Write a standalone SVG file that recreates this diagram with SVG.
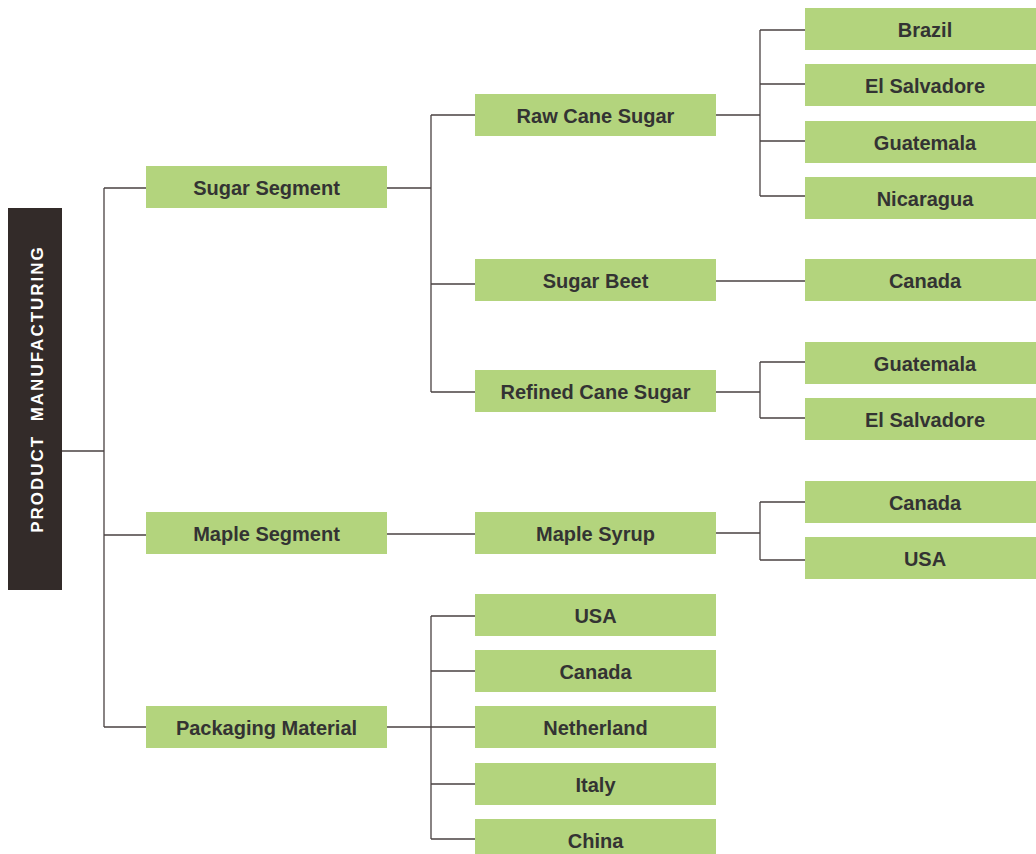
<svg xmlns="http://www.w3.org/2000/svg" width="1036" height="854" viewBox="0 0 1036 854">
<style>
.n rect{fill:#b3d47d}
.n text{font-family:"Liberation Sans",Arial,sans-serif;font-weight:bold;font-size:20px;fill:#333;text-anchor:middle}
#connectors path{fill:none;stroke:#4a4242;stroke-width:1.3}
</style>
<rect width="1036" height="854" fill="#fff"/>
<g id="connectors">
<path d="M62 451H104M104 188V727M104 188H146M104 535H146M104 727H146"/>
<path d="M387 188H431M431 115V392M431 115H475M431 284H475M431 392H475"/>
<path d="M716 115H760M760 30V196M760 30H805M760 84H805M760 141H805M760 196H805"/>
<path d="M716 281H805"/>
<path d="M716 392H760M760 362V418M760 362H805M760 418H805"/>
<path d="M387 534H475"/>
<path d="M716 533H760M760 502V560M760 502H805M760 560H805"/>
<path d="M387 727H431M431 616V839M431 616H475M431 671H475M431 727H475M431 784H475M431 839H475"/>
</g>
<g id="root"><rect x="8" y="208" width="54" height="382" fill="#332b29"/>
<text transform="translate(42.5 389) rotate(-90)" font-family="Liberation Sans,Arial,sans-serif" font-weight="bold" font-size="17" letter-spacing="2" fill="#fff" text-anchor="middle" xml:space="preserve">PRODUCT  MANUFACTURING</text></g>
<g id="sugar-segment" class="n"><rect x="146" y="166" width="241" height="42"/><text x="266.5" y="195">Sugar Segment</text></g>
<g id="maple-segment" class="n"><rect x="146" y="512" width="241" height="42"/><text x="266.5" y="541">Maple Segment</text></g>
<g id="packaging-material" class="n"><rect x="146" y="706" width="241" height="42"/><text x="266.5" y="735">Packaging Material</text></g>
<g id="raw-cane-sugar" class="n"><rect x="475" y="94" width="241" height="42"/><text x="595.5" y="123">Raw Cane Sugar</text></g>
<g id="sugar-beet" class="n"><rect x="475" y="259" width="241" height="42"/><text x="595.5" y="288">Sugar Beet</text></g>
<g id="refined-cane-sugar" class="n"><rect x="475" y="370" width="241" height="42"/><text x="595.5" y="399">Refined Cane Sugar</text></g>
<g id="maple-syrup" class="n"><rect x="475" y="512" width="241" height="42"/><text x="595.5" y="541">Maple Syrup</text></g>
<g id="pk-usa" class="n"><rect x="475" y="594" width="241" height="42"/><text x="595.5" y="623">USA</text></g>
<g id="pk-canada" class="n"><rect x="475" y="650" width="241" height="42"/><text x="595.5" y="679">Canada</text></g>
<g id="pk-netherland" class="n"><rect x="475" y="706" width="241" height="42"/><text x="595.5" y="735">Netherland</text></g>
<g id="pk-italy" class="n"><rect x="475" y="763" width="241" height="42"/><text x="595.5" y="792">Italy</text></g>
<g id="pk-china" class="n"><rect x="475" y="819" width="241" height="42"/><text x="595.5" y="848">China</text></g>
<g id="rc-brazil" class="n"><rect x="805" y="8" width="231" height="42"/><text x="925" y="37">Brazil</text></g>
<g id="rc-elsalvadore" class="n"><rect x="805" y="64" width="231" height="42"/><text x="925" y="93">El Salvadore</text></g>
<g id="rc-guatemala" class="n"><rect x="805" y="121" width="231" height="42"/><text x="925" y="150">Guatemala</text></g>
<g id="rc-nicaragua" class="n"><rect x="805" y="177" width="231" height="42"/><text x="925" y="206">Nicaragua</text></g>
<g id="sb-canada" class="n"><rect x="805" y="259" width="231" height="42"/><text x="925" y="288">Canada</text></g>
<g id="rf-guatemala" class="n"><rect x="805" y="342" width="231" height="42"/><text x="925" y="371">Guatemala</text></g>
<g id="rf-elsalvadore" class="n"><rect x="805" y="398" width="231" height="42"/><text x="925" y="427">El Salvadore</text></g>
<g id="ms-canada" class="n"><rect x="805" y="481" width="231" height="42"/><text x="925" y="510">Canada</text></g>
<g id="ms-usa" class="n"><rect x="805" y="537" width="231" height="42"/><text x="925" y="566">USA</text></g>
</svg>
